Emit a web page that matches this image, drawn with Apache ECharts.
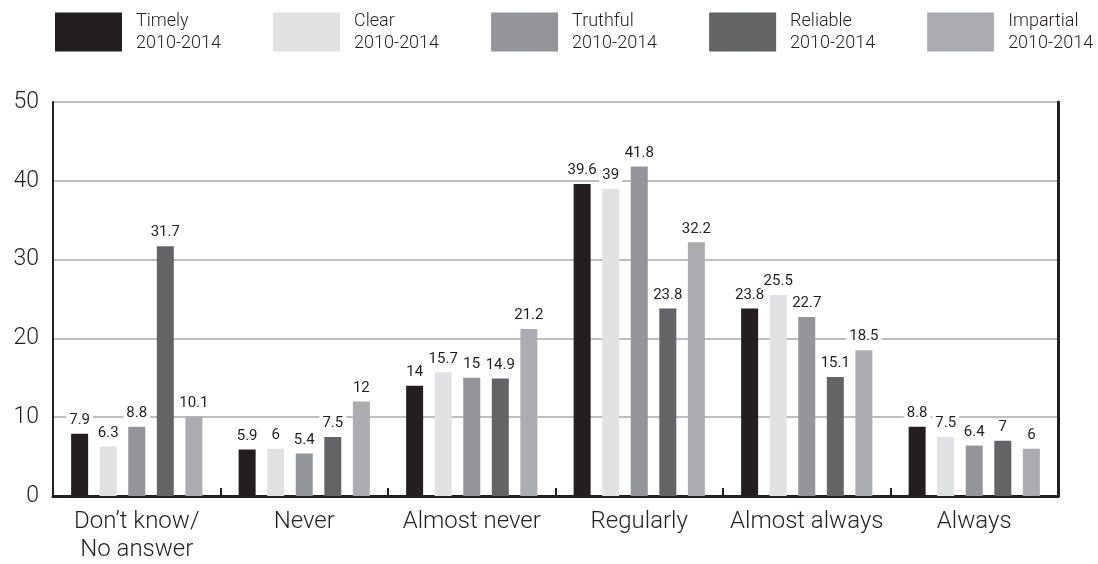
<!DOCTYPE html>
<html>
<head>
<meta charset="utf-8">
<script src="https://cdn.jsdelivr.net/npm/echarts@6/dist/echarts.min.js"></script>
<style>
  html, body { margin: 0; padding: 0; background: #fff; }
  #chart { width: 1098px; height: 564px; }
</style>
</head>
<body>
<div id="chart"></div>
<script>
// Response categories along the x axis
const categories = ['Don\u2019t know/\nNo answer', 'Never', 'Almost never', 'Regularly', 'Almost always', 'Always'];

// Share of answers (%) per quality attribute, 2010-2014
const timely     = [7.9, 5.9, 14, 39.6, 23.8, 8.8];
const clear      = [6.3, 6, 15.7, 39, 25.5, 7.5];
const truthful   = [8.8, 5.4, 15, 41.8, 22.7, 6.4];
const reliable   = [31.7, 7.5, 14.9, 23.8, 15.1, 7];
const impartial  = [10.1, 12, 21.2, 32.2, 18.5, 6];

const seriesNames = ['Timely\n2010-2014', 'Clear\n2010-2014', 'Truthful\n2010-2014', 'Reliable\n2010-2014', 'Impartial\n2010-2014'];
const seriesData = [timely, clear, truthful, reliable, impartial];
const colors = ['#231f20', '#e1e2e3', '#939598', '#636466', '#acadb0'];

const yTicks = { min: 0, max: 50, interval: 10 };

const fontFamily = 'Roboto, "DejaVu Sans", sans-serif';
const ink = '#231f20';

const chart = echarts.init(document.getElementById('chart'));

chart.setOption({
  animation: false,
  color: colors,
  textStyle: { fontFamily: fontFamily },
  legend: {
    left: 55,
    top: 10,
    width: 1060,
    padding: 0,
    itemWidth: 67,
    itemHeight: 39,
    itemGap: 52,
    icon: 'rect',
    selectedMode: false,
    textStyle: {
      fontFamily: fontFamily,
      fontSize: 18,
      fontWeight: 300,
      lineHeight: 22,
      color: ink,
      padding: [0, 0, 0, 9]
    },
    data: seriesNames
  },
  grid: {
    left: 53,
    right: 40,
    top: 102,
    bottom: 67,
    containLabel: false
  },
  xAxis: {
    type: 'category',
    data: categories,
    axisLine: { show: true, lineStyle: { color: ink, width: 3 } },
    axisTick: { show: true, interval: 0, inside: true, length: 8, lineStyle: { color: ink, width: 2 } },
    axisLabel: {
      interval: 0,
      fontFamily: fontFamily,
      fontSize: 24,
      fontWeight: 300,
      lineHeight: 28,
      color: ink,
      margin: 12
    }
  },
  yAxis: [
    {
      type: 'value',
      min: yTicks.min,
      max: yTicks.max,
      interval: yTicks.interval,
      axisLine: { show: true, lineStyle: { color: ink, width: 2 } },
      axisTick: { show: false },
      axisLabel: {
        fontFamily: fontFamily,
        fontSize: 23,
        fontWeight: 300,
        color: ink,
        margin: 14
      },
      splitLine: { show: true, lineStyle: { color: '#a7a9ac', width: 1.5 } }
    },
    {
      type: 'value',
      position: 'right',
      min: yTicks.min,
      max: yTicks.max,
      interval: yTicks.interval,
      axisLine: { show: true, lineStyle: { color: ink, width: 3 } },
      axisTick: { show: false },
      axisLabel: { show: false },
      splitLine: { show: false }
    }
  ],
  series: seriesNames.map(function (name, i) {
    return {
      name: name,
      type: 'bar',
      data: seriesData[i],
      barWidth: 17,
      barGap: '68%',
      itemStyle: { color: colors[i] },
      label: {
        show: true,
        position: 'top',
        distance: 5,
        fontFamily: fontFamily,
        fontSize: 15,
        color: ink,
        backgroundColor: '#fff',
        padding: [1, 3, 1, 3]
      }
    };
  })
});
</script>
</body>
</html>
